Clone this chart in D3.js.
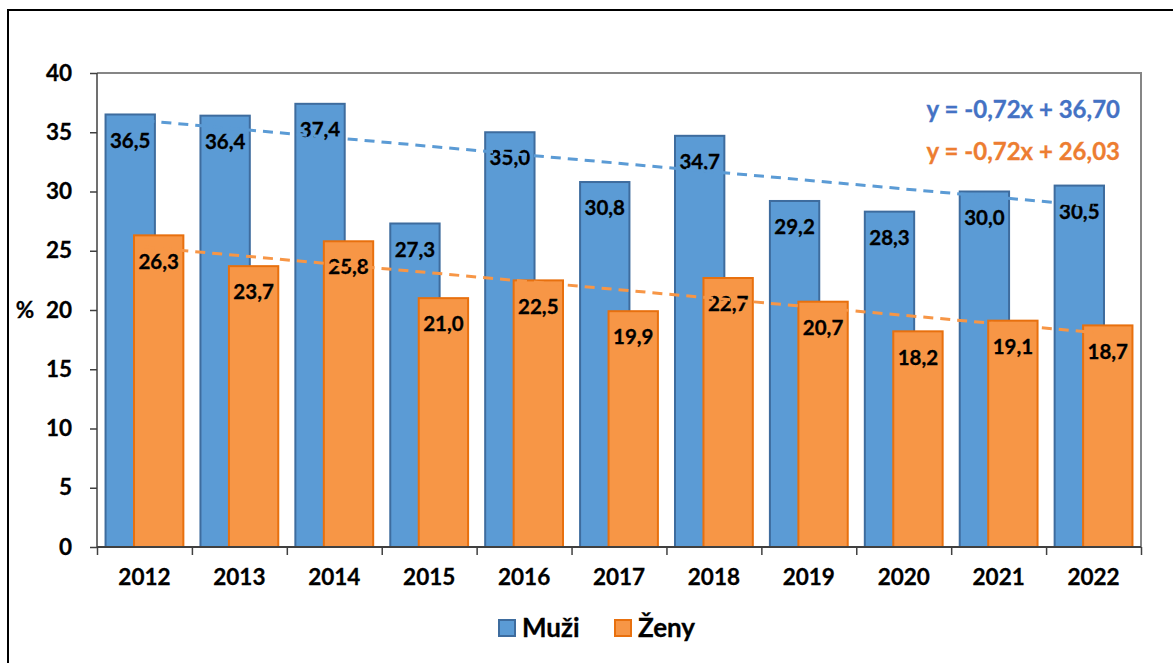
<!DOCTYPE html>
<html>
<head>
<meta charset="utf-8">
<script src="https://cdn.jsdelivr.net/npm/d3@7"></script>
<style>
  body { margin: 0; background: #fff; }
  svg { display: block; font-family: Lato, "Open Sans", sans-serif; font-weight: 700; }
</style>
</head>
<body>
<div id="chart"></div>
<script>
const years = ["2012", "2013", "2014", "2015", "2016", "2017", "2018", "2019", "2020", "2021", "2022"];
const muzi = [36.5, 36.4, 37.4, 27.3, 35.0, 30.8, 34.7, 29.2, 28.3, 30.0, 30.5];
const zeny = [26.3, 23.7, 25.8, 21.0, 22.5, 19.9, 22.7, 20.7, 18.2, 19.1, 18.7];
const yTicks = [0, 5, 10, 15, 20, 25, 30, 35, 40];
const trends = [
  { name: "Muži", slope: -0.72, intercept: 36.70, label: "y = -0,72x + 36,70" },
  { name: "Ženy", slope: -0.72, intercept: 26.03, label: "y = -0,72x + 26,03" },
];

const width = 1173, height = 663;
const margin = { top: 73, right: 32, bottom: 116, left: 97 };
const innerW = width - margin.left - margin.right;
const innerH = height - margin.top - margin.bottom;

const colors = {
  "Muži": { fill: "#5B9BD5", stroke: "#3E6C9E", text: "#4472C4" },
  "Ženy": { fill: "#F79646", stroke: "#E8700E", text: "#ED7D31" },
};

const svg = d3.select("#chart").append("svg")
  .attr("width", width).attr("height", height);

// outer frame (top and left edges only visible)
svg.append("path")
  .attr("d", `M8,${height} V10 H${width}`)
  .attr("fill", "none").attr("stroke", "#000").attr("stroke-width", 2);

const g = svg.append("g").attr("transform", `translate(${margin.left},${margin.top})`);

const x = d3.scaleBand().domain(years).range([0, innerW]).padding(0);
const xLin = d3.scaleLinear().domain([0, years.length]).range([0, innerW]);
const y = d3.scaleLinear().domain([0, 40]).range([innerH, 0]);

const bw = x.bandwidth();
const barW = bw * 0.52;
const shift = bw * 0.15;

// plot area top/right border
g.append("path")
  .attr("d", `M0,0 H${innerW} V${innerH}`)
  .attr("fill", "none").attr("stroke", "#868686").attr("stroke-width", 2);

// y axis
const yAxis = g.append("g")
  .call(d3.axisLeft(y).tickValues(yTicks).tickSize(7).tickPadding(18));
yAxis.select(".domain").remove();
yAxis.selectAll(".tick line").attr("stroke", "#404040").attr("stroke-width", 1.5);
yAxis.selectAll(".tick text").attr("font-size", 22.5).attr("font-weight", 700)
  .attr("fill", "#000").attr("stroke", "#000").attr("stroke-width", 0.3)
  .attr("font-family", "Lato, 'Open Sans', sans-serif");

// x axis ticks at band boundaries
const xTickAxis = g.append("g").attr("transform", `translate(0,${innerH})`)
  .call(d3.axisBottom(xLin).tickValues(d3.range(years.length + 1)).tickSize(8).tickFormat(""));
xTickAxis.select(".domain").remove();
xTickAxis.selectAll(".tick line").attr("stroke", "#404040").attr("stroke-width", 1.5);

const xAxis = g.append("g").attr("transform", `translate(0,${innerH})`)
  .call(d3.axisBottom(x).tickSize(0).tickPadding(22));
xAxis.select(".domain").remove();
xAxis.selectAll(".tick text").attr("font-size", 22.5).attr("font-weight", 700)
  .attr("fill", "#000").attr("stroke", "#000").attr("stroke-width", 0.3)
  .attr("font-family", "Lato, 'Open Sans', sans-serif");

// % label
svg.append("text").attr("x", 25).attr("y", y(20) + margin.top)
  .attr("dy", "0.35em").attr("text-anchor", "middle")
  .attr("font-size", 22.5).attr("stroke", "#000").attr("stroke-width", 0.3).text("%");

// bars
const series = [
  { name: "Muži", values: muzi, off: -shift },
  { name: "Ženy", values: zeny, off: shift },
];

series.forEach(s => {
  const c = colors[s.name];
  const bars = g.append("g");
  bars.selectAll("rect").data(s.values).join("rect")
    .attr("x", (d, i) => x(years[i]) + bw / 2 + s.off - barW / 2)
    .attr("y", d => y(d))
    .attr("width", barW)
    .attr("height", d => innerH - y(d))
    .attr("fill", c.fill).attr("stroke", c.stroke).attr("stroke-width", 2);
  bars.selectAll("text").data(s.values).join("text")
    .attr("x", (d, i) => x(years[i]) + bw / 2 + s.off)
    .attr("y", d => y(d) + 26)
    .attr("dy", "0.35em").attr("text-anchor", "middle")
    .attr("font-size", 20.5).attr("fill", "#000")
    .attr("stroke", "#000").attr("stroke-width", 0.3)
    .text(d => d3.format(".1f")(d).replace(".", ","));
});

// bottom axis line and left axis line
g.append("line").attr("x1", 0).attr("x2", 0).attr("y1", 0).attr("y2", innerH)
  .attr("stroke", "#404040").attr("stroke-width", 1.5);
g.append("line").attr("x1", 0).attr("x2", innerW).attr("y1", innerH).attr("y2", innerH)
  .attr("stroke", "#404040").attr("stroke-width", 2);

// trend lines
const line = d3.line().x(d => x(years[d[0] - 1]) + bw / 2).y(d => y(d[1]));
trends.forEach((t, k) => {
  const c = colors[t.name];
  const pts = [1, years.length].map(i => [i, t.slope * i + t.intercept]);
  g.append("path").attr("d", line(pts))
    .attr("fill", "none").attr("stroke", c.fill).attr("stroke-width", 3)
    .attr("stroke-dasharray", "10,7");
  svg.append("text").attr("x", 1120).attr("y", 110 + k * 42)
    .attr("dy", "0.35em").attr("text-anchor", "end")
    .attr("font-size", 24).attr("fill", c.text)
    .attr("stroke", c.text).attr("stroke-width", 0.3).text(t.label);
});

// legend
const legend = [
  { name: "Muži", sx: 498 },
  { name: "Ženy", sx: 614 },
];
legend.forEach(l => {
  const c = colors[l.name];
  svg.append("rect").attr("x", l.sx + 1).attr("y", 620).attr("width", 16).attr("height", 16)
    .attr("fill", c.fill).attr("stroke", c.stroke).attr("stroke-width", 2);
  svg.append("text").attr("x", l.sx + 24).attr("y", 628).attr("dy", "0.35em")
    .attr("font-size", 26).attr("fill", "#000")
    .attr("stroke", "#000").attr("stroke-width", 0.3).text(l.name);
});
</script>
</body>
</html>
